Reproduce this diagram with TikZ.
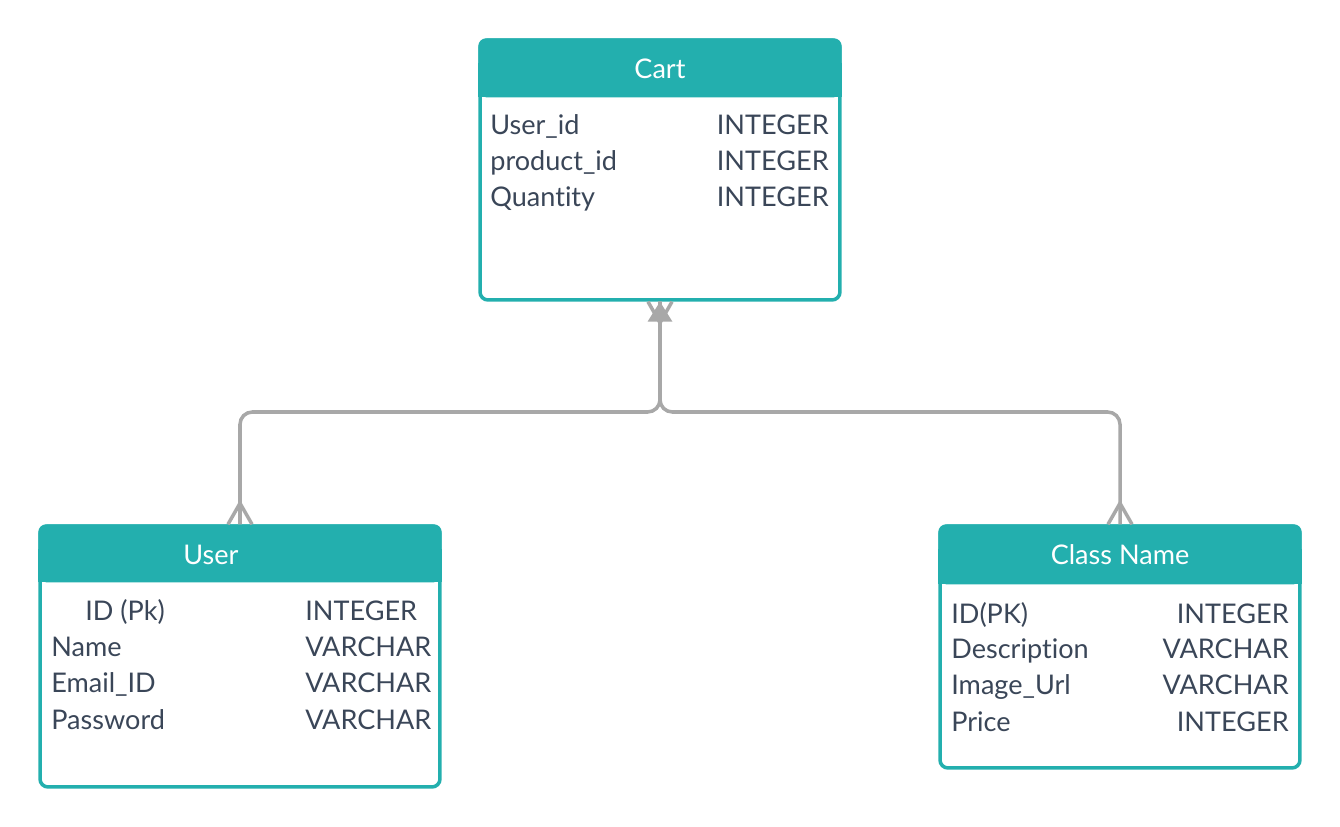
\documentclass[tikz,border=0pt]{standalone}
\usepackage{fontspec}
\setmainfont[Ligatures=NoCommon]{Lato}
\definecolor{sarcelle}{HTML}{23AFAE}
\definecolor{encre}{HTML}{3A4658}
\definecolor{gris}{HTML}{A8A8A8}
\begin{document}
\begin{tikzpicture}[x=0.02cm,y=-0.02cm]
% Styles
\tikzstyle{table}=[draw=sarcelle,line width=2pt,rounded corners=4.5pt,inner sep=0pt]
\tikzstyle{entete}=[fill=sarcelle]
\tikzstyle{titre}=[text=white,anchor=base,inner sep=0pt]
\tikzstyle{champ}=[text=encre,anchor=base west,inner sep=0pt]
\tikzstyle{typeg}=[text=encre,anchor=base west,inner sep=0pt]
\tikzstyle{typed}=[text=encre,anchor=base east,inner sep=0pt]
\tikzstyle{lien}=[draw=gris,line width=2pt]
\tikzstyle{patte}=[draw=gris,line width=2pt]
\fontsize{15.4}{18}\selectfont
\useasboundingbox (0,0) rectangle (1340,827);
% Tables
\node[table,minimum width=7.2cm,minimum height=5.2cm] (cart) at (660,170) {};
\fill[entete,rounded corners=4.5pt] (cart.north west) rectangle ([yshift=-1.18cm]cart.north east);
\fill[entete] ([yshift=-0.5cm]cart.north west) rectangle ([yshift=-1.18cm]cart.north east);
\node[table,minimum width=8cm,minimum height=5.22cm] (user) at (240,656.5) {};
\fill[entete,rounded corners=4.5pt] (user.north west) rectangle ([yshift=-1.16cm]user.north east);
\fill[entete] ([yshift=-0.5cm]user.north west) rectangle ([yshift=-1.16cm]user.north east);
\node[table,minimum width=7.2cm,minimum height=4.84cm] (classe) at (1120,647) {};
\fill[entete,rounded corners=4.5pt] (classe.north west) rectangle ([yshift=-1.2cm]classe.north east);
\fill[entete] ([yshift=-0.5cm]classe.north west) rectangle ([yshift=-1.2cm]classe.north east);
% Cart
\node[titre] (tcart) at (660,79) {Cart};
\node[champ] (c1) at (490,135) {User\_id};
\node[champ] (c2) at (490,171) {product\_id};
\node[champ] (c3) at (490,207) {Quantity};
\node[typed] (c1t) at (829,135) {INTEGER};
\node[typed] (c2t) at (829,171) {INTEGER};
\node[typed] (c3t) at (829,207) {INTEGER};
% User
\node[titre] (tuser) at (211,565) {User};
\node[champ] (u1) at (85,621) {ID (Pk)};
\node[champ] (u2) at (51,657) {Name};
\node[champ] (u3) at (51,693) {Email\_ID};
\node[champ] (u4) at (51,729) {Password};
\node[typeg] (u1t) at (305,621) {INTEGER};
\node[typeg] (u2t) at (305,657) {VARCHAR};
\node[typeg] (u3t) at (305,693) {VARCHAR};
\node[typeg] (u4t) at (305,729) {VARCHAR};
% Class Name
\node[titre] (tclasse) at (1120,565) {Class Name};
\node[champ] (k1) at (951,623) {ID(PK)};
\node[champ] (k2) at (951,659) {Description};
\node[champ] (k3) at (951,695) {Image\_Url};
\node[champ] (k4) at (951,731) {Price};
\node[typed] (k1t) at (1289,623) {INTEGER};
\node[typed] (k2t) at (1289,659) {VARCHAR};
\node[typed] (k3t) at (1289,695) {VARCHAR};
\node[typed] (k4t) at (1289,731) {INTEGER};
% Liens
\coordinate (jonction) at (660,412);
\draw[lien,rounded corners=7pt] (cart.south) -- (jonction) -| (user.north);
\draw[lien,rounded corners=7pt] (cart.south) -- (jonction) -| (classe.north);
% Pattes
\fill[gris] (cart.south) -- ([xshift=-0.25cm,yshift=-0.4cm]cart.south) -- ([xshift=0.25cm,yshift=-0.4cm]cart.south) -- cycle;
\draw[patte] ([xshift=-0.24cm]cart.south) -- ([yshift=-0.42cm]cart.south) -- ([xshift=0.24cm]cart.south);
\draw[patte] ([xshift=-0.24cm]user.north) -- ([yshift=0.42cm]user.north) -- ([xshift=0.24cm]user.north);
\draw[patte] ([xshift=-0.24cm]classe.north) -- ([yshift=0.42cm]classe.north) -- ([xshift=0.24cm]classe.north);
\end{tikzpicture}
\end{document}
